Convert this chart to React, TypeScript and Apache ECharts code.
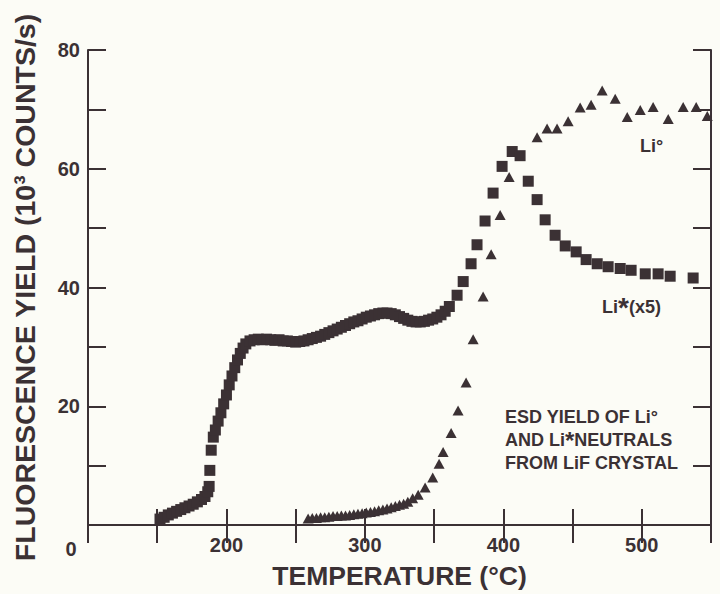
import React, { useEffect, useRef } from "react";
import * as echarts from "echarts";

// Li* (x5) yield, squares: temperature (°C) and yield (10^3 counts/s)
const liStarTemp = [
  152, 155, 158, 161, 164, 167, 170, 173, 176, 179, 182, 184.5, 186.5, 187.5,
  188, 189, 190.5, 192, 194, 196, 198, 200, 202, 204, 206, 208, 210, 212, 214,
  217, 220, 223, 226, 229, 232, 235, 238, 241, 244, 247, 250, 253, 256, 259,
  262, 265, 268, 271, 274, 277, 280, 283, 286, 289, 292, 295, 298, 301, 304,
  307, 310, 313, 316, 319, 322, 325, 328, 331, 334, 337, 340, 343, 346, 349,
  352, 355, 358, 361, 366.6, 371, 376.7, 381, 386.8, 392.6, 399.1, 406.4,
  412.1, 418, 424.4, 430.2, 437.4, 444.7, 452.6, 459.8, 467.8, 475.7, 484.4,
  492.3, 502.5, 511.8, 520.5, 537.1,
];
const liStarYield = [
  1.0, 1.3, 1.7, 2.0, 2.3, 2.6, 2.9, 3.2, 3.5, 3.9, 4.3, 4.8, 5.6, 6.5,
  9.2, 12.6, 14.8, 16.0, 17.5, 18.9, 20.4, 21.9, 23.6, 25.1, 26.5, 27.8, 28.9, 29.8, 30.5,
  31.0, 31.2, 31.3, 31.2, 31.3, 31.2, 31.1, 31.2, 31.0, 31.0, 30.9, 30.8, 30.9, 31.0, 31.2,
  31.4, 31.6, 31.8, 32.1, 32.4, 32.7, 33.0, 33.3, 33.6, 33.9, 34.2, 34.4, 34.7, 35.0, 35.2,
  35.4, 35.6, 35.7, 35.7, 35.6, 35.4, 35.1, 34.8, 34.5, 34.3, 34.2, 34.2, 34.3, 34.5, 34.7,
  35.0, 35.4, 36.0, 36.8, 38.7, 41.0, 44.0, 47.2, 51.2, 55.9, 60.4, 62.9,
  62.2, 57.9, 54.8, 51.4, 48.8, 47.0, 46.0, 44.7, 44.0, 43.5, 43.2,
  42.9, 42.3, 42.3, 41.9, 41.6,
];

// Li° yield, triangles
const liTemp = [
  259, 262, 265, 268, 271, 274, 277, 280, 283, 286, 289, 292, 295, 298, 301,
  304, 307, 310, 313, 316, 319, 322, 325, 328, 331, 334.5, 338.5, 343.5, 349,
  353.6, 356.5, 362.3, 367.3, 373.1, 378.2, 385.4, 391.2, 397.7, 404.2, 424.4,
  431.6, 438.8, 446.8, 455.5, 463.4, 471.4, 480.8, 489.5, 498.9, 508.2, 519.1,
  529.9, 539.3, 547.3,
];
const liYield = [
  1.1, 1.2, 1.2, 1.3, 1.3, 1.4, 1.5, 1.5, 1.6, 1.6, 1.7, 1.8, 1.9, 2.0, 2.1,
  2.2, 2.3, 2.5, 2.6, 2.8, 3.0, 3.2, 3.4, 3.6, 3.9, 4.5, 5.1, 6.3, 8.0,
  10.3, 12.3, 15.5, 19.3, 24.0, 31.3, 38.5, 45.6, 52.2, 58.6, 65.3,
  66.8, 66.8, 68.0, 70.3, 70.8, 73.2, 71.8, 68.7, 69.9, 70.4, 68.4,
  70.4, 70.4, 68.9,
];

const xLabelValues = [200, 300, 400, 500];
const yLabelValues = [20, 40, 60, 80];

const INK = "#3b3134";
const BG = "#fcfcf6";
const FONT = "'Liberation Sans', Arial, Helvetica, sans-serif";

export default function App() {
  const ref = useRef<HTMLDivElement>(null);

  useEffect(() => {
    document.body.style.margin = "0";
    document.body.style.background = BG;
    if (!ref.current) return;
    const chart = echarts.init(ref.current, undefined, { renderer: "svg" });

    const lineStyle = { color: INK, width: 2 };
    const tickStyle = { color: INK, width: 2 };
    const labelStyle = {
      color: INK,
      fontSize: 20,
      fontWeight: "bold" as const,
      fontFamily: FONT,
    };
    const richA = { fill: INK, fontSize: 18, fontWeight: "bold", fontFamily: FONT, lineHeight: 22 };
    const richStar = { fill: INK, fontSize: 24, fontWeight: "bold", fontFamily: FONT, lineHeight: 22 };

    const textLine = (y: number, text: string) => ({
      type: "text",
      x: 505,
      y,
      style: {
        text,
        fill: INK,
        align: "left",
        verticalAlign: "middle",
        rich: { a: richA, b: richStar },
      },
    });

    const option: any = {
      animation: false,
      backgroundColor: BG,
      grid: { left: 88, right: 9, top: 50, bottom: 64, containLabel: false },
      xAxis: [
        {
          type: "value",
          min: 100,
          max: 550,
          interval: 50,
          position: "bottom",
          axisLine: { show: true, lineStyle },
          axisTick: { show: true, inside: true, length: 16, lineStyle: tickStyle },
          axisLabel: {
            ...labelStyle,
            margin: 10,
            formatter: (v: number) => (xLabelValues.includes(v) ? String(v) : ""),
          },
          splitLine: { show: false },
          name: "TEMPERATURE (°C)",
          nameLocation: "middle",
          nameGap: 37,
          nameTextStyle: { color: INK, fontSize: 26.5, fontWeight: "bold", fontFamily: FONT },
        },
        {
          type: "value",
          min: 100,
          max: 550,
          interval: 50,
          position: "top",
          axisLine: { show: true, lineStyle },
          axisTick: { show: true, inside: true, length: 18, lineStyle: tickStyle },
          axisLabel: { show: false },
          splitLine: { show: false },
        },
      ],
      yAxis: [
        {
          type: "value",
          min: 0,
          max: 80,
          interval: 10,
          position: "left",
          axisLine: { show: true, lineStyle },
          axisTick: { show: true, inside: true, length: 18, lineStyle: tickStyle },
          axisLabel: {
            ...labelStyle,
            margin: 8,
            formatter: (v: number) => (yLabelValues.includes(v) ? String(v) : ""),
          },
          splitLine: { show: false },
          name: "FLUORESCENCE YIELD (10³ COUNTS/s)",
          nameLocation: "middle",
          nameRotate: 90,
          nameGap: 49,
          nameTextStyle: { color: INK, fontSize: 28.5, fontWeight: "bold", fontFamily: FONT },
        },
        {
          type: "value",
          min: 0,
          max: 80,
          interval: 10,
          position: "right",
          axisLine: { show: true, lineStyle },
          axisTick: { show: true, inside: true, length: 18, lineStyle: tickStyle },
          axisLabel: { show: false },
          splitLine: { show: false },
        },
      ],
      series: [
        {
          name: "Li°",
          type: "scatter",
          symbol: "triangle",
          symbolSize: [11, 10],
          itemStyle: { color: INK, opacity: 1 },
          data: liTemp.map((t, i) => [t, liYield[i]]),
        },
        {
          name: "Li*(x5)",
          type: "scatter",
          symbol: "rect",
          symbolSize: 11,
          itemStyle: { color: INK, opacity: 1 },
          data: liStarTemp.map((t, i) => [t, liStarYield[i]]),
        },
      ],
      graphic: [
        {
          type: "text",
          x: 71,
          y: 549,
          style: {
            text: "0",
            fill: INK,
            font: `bold 20px ${FONT}`,
            align: "center",
            verticalAlign: "middle",
          },
        },
        {
          type: "text",
          x: 640,
          y: 146,
          style: {
            text: "Li°",
            fill: INK,
            font: `bold 18px ${FONT}`,
            align: "left",
            verticalAlign: "middle",
          },
        },
        {
          type: "text",
          x: 602,
          y: 307,
          style: {
            text: "{a|Li}{b|*}{a|(x5)}",
            fill: INK,
            align: "left",
            verticalAlign: "middle",
            rich: { a: richA, b: { ...richStar, fontSize: 28 } },
          },
        },
        textLine(417, "{a|ESD YIELD OF Li°}"),
        textLine(440, "{a|AND Li}{b|*}{a|NEUTRALS}"),
        textLine(463, "{a|FROM LiF CRYSTAL}"),
      ],
    };

    chart.setOption(option);
    return () => {
      chart.dispose();
    };
  }, []);

  return <div ref={ref} style={{ width: 720, height: 594, background: BG }} />;
}
